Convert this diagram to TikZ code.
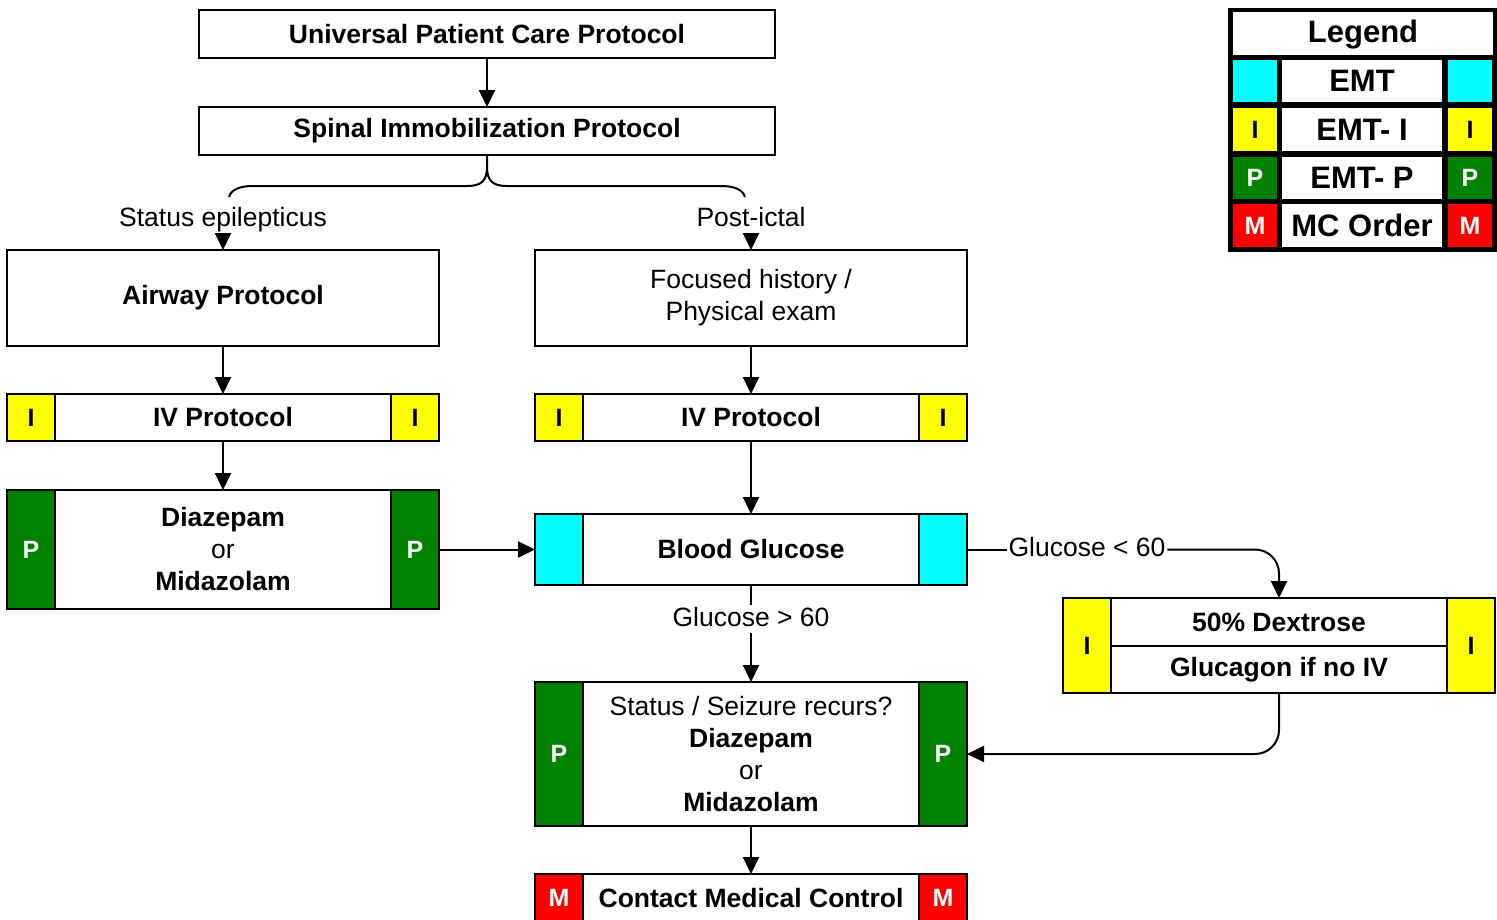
\documentclass[tikz,border=0pt]{standalone}
\usepackage{fontspec}
\setmainfont{Liberation Sans}
\usetikzlibrary{arrows.meta}
\definecolor{tagyellow}{RGB}{255,255,0}
\definecolor{tagcyan}{RGB}{0,255,255}
\definecolor{taggreen}{RGB}{0,128,0}
\definecolor{tagred}{RGB}{255,0,0}
\begin{document}
\begin{tikzpicture}[x=1pt,y=-1pt,
  every node/.style={inner sep=0pt,outer sep=0pt},
  box/.style={draw=black,line width=2pt,fill=white,minimum width=432pt,align=center,font=\fontsize{26.5}{32}\selectfont},
  wbox/.style={box,minimum width=576pt},
  tag/.style={draw=black,line width=2pt,minimum width=48pt,font=\fontsize{25}{28}\selectfont\bfseries},
  tagI/.style={tag,fill=tagyellow,text=black},
  tagE/.style={tag,fill=tagcyan},
  tagP/.style={tag,fill=taggreen,text=white},
  tagM/.style={tag,fill=tagred,text=white},
  lbl/.style={inner sep=2pt,text height=19pt,text depth=5pt,font=\fontsize{26.5}{32}\selectfont},
  line/.style={draw=black,line width=2pt},
  arr/.style={line,-{Triangle[length=17pt,width=16pt]}},
  lcell/.style={fill=white,font=\fontsize{31}{36}\selectfont\bfseries},
  ltag/.style={font=\fontsize{25}{30}\selectfont\bfseries},
]
\useasboundingbox (0,0) rectangle (1497,919);

% main column
\node[wbox,minimum height=48pt] (upc) at (487,34) {\bfseries Universal Patient Care Protocol};
\node[wbox,minimum height=48pt] (sip) at (487,131) {\bfseries Spinal Immobilization Protocol};

\node[lbl] (se) at (223,219) {Status epilepticus};
\node[lbl] (pi) at (751,219) {Post-ictal};
\coordinate (bl) at (229,197);
\coordinate (br) at (745,197);

\node[box,minimum height=96pt] (air) at (223,298) {\bfseries Airway Protocol};
\node[box,minimum height=96pt] (foc) at (751,298) {Focused history /\\Physical exam};

\node[box,minimum height=47pt] (ivl) at (223,417.5) {\bfseries IV Protocol};
\node[tagI,minimum height=47pt,anchor=west] (ivlL) at (ivl.west) {I};
\node[tagI,minimum height=47pt,anchor=east] (ivlR) at (ivl.east) {I};

\node[box,minimum height=47pt] (ivr) at (751,417.5) {\bfseries IV Protocol};
\node[tagI,minimum height=47pt,anchor=west] (ivrL) at (ivr.west) {I};
\node[tagI,minimum height=47pt,anchor=east] (ivrR) at (ivr.east) {I};

\node[box,minimum height=119pt] (dia) at (223,549.5) {\bfseries Diazepam\\or\\\bfseries Midazolam};
\node[tagP,minimum height=119pt,anchor=west] (diaL) at (dia.west) {P};
\node[tagP,minimum height=119pt,anchor=east] (diaR) at (dia.east) {P};

\node[box,minimum height=71pt] (bg) at (751,549.5) {\bfseries Blood Glucose};
\node[tagE,minimum height=71pt,anchor=west] (bgL) at (bg.west) {};
\node[tagE,minimum height=71pt,anchor=east] (bgR) at (bg.east) {};

\node[lbl] (gt) at (751,619) {Glucose > 60};
\node[lbl] (lt) at (1087,549.5) {Glucose < 60};

\node[box,minimum height=144pt] (st) at (751,754) {Status / Seizure recurs?\\\bfseries Diazepam\\or\\\bfseries Midazolam};
\node[tagP,minimum height=144pt,anchor=west] (stL) at (st.west) {P};
\node[tagP,minimum height=144pt,anchor=east] (stR) at (st.east) {P};

\node[box,minimum height=48pt] (cmc) at (751,898) {\bfseries Contact Medical Control};
\node[tagM,minimum height=48pt,anchor=west] (cmcL) at (cmc.west) {M};
\node[tagM,minimum height=48pt,anchor=east] (cmcR) at (cmc.east) {M};

\node[box,minimum height=95pt] (dex) at (1279,645.5) {};
\node[tagI,minimum height=95pt,anchor=west] (dexL) at (dex.west) {I};
\node[tagI,minimum height=95pt,anchor=east] (dexR) at (dex.east) {I};
\coordinate (dexm1) at (1111,646);
\coordinate (dexm2) at (1447,646);
\draw[line] (dexm1) -- (dexm2);
\node[font=\fontsize{26.5}{32}\selectfont\bfseries] (dex1) at (1279,622) {50\% Dextrose};
\node[font=\fontsize{26.5}{32}\selectfont\bfseries] (dex2) at (1279,670) {Glucagon if no IV};

% connectors
\draw[arr] (upc) -- (sip);
\draw[line] (sip.south) -- ++(0,12) .. controls +(0,14) and +(14,0) .. (467,186) -- (253,186) .. controls (239,186) and (231,190) .. (bl);
\draw[line] (sip.south) ++(0,12) .. controls +(0,14) and +(-14,0) .. (507,186) -- (721,186) .. controls (735,186) and (743,190) .. (br);
\draw[arr] (se) -- (air);
\draw[arr] (pi) -- (foc);
\draw[arr] (air) -- (ivl);
\draw[arr] (ivl) -- (dia);
\draw[arr] (foc) -- (ivr);
\draw[arr] (ivr) -- (bg);
\draw[arr] (diaR.east) -- (bg.west);
\draw[line] (bg.south) -- (gt.north);
\draw[arr] (gt.south) -- (st.north);
\draw[arr] (st) -- (cmc);
\draw[line] (bg.east) -- (lt.west);
\draw[arr,rounded corners=24pt] (lt.east) -| (dex.north);
\draw[arr,rounded corners=24pt] (dex.south) |- (st.east);

% legend
\node[fill=black,minimum width=269pt,minimum height=244pt,anchor=north west] (leg) at (1228,8) {};
\node[lcell,minimum width=260pt,minimum height=43pt] (legt) at (1363,33.5) {};
\node[font=\fontsize{31}{36}\selectfont\bfseries] (legtx) at (1363,35) {Legend};
\node[fill=tagcyan,minimum width=44pt,minimum height=42pt] (le1) at (1255,81) {};
\node[lcell,minimum width=160pt,minimum height=42pt] (lm1) at (1362,81) {EMT};
\node[fill=tagcyan,minimum width=44pt,minimum height=42pt] (lr1) at (1470,81) {};
\node[ltag,fill=tagyellow,minimum width=44pt,minimum height=43pt] (le2) at (1255,129.5) {I};
\node[lcell,minimum width=160pt,minimum height=43pt] (lm2) at (1362,129.5) {EMT- I};
\node[ltag,fill=tagyellow,minimum width=44pt,minimum height=43pt] (lr2) at (1470,129.5) {I};
\node[ltag,fill=taggreen,text=white,minimum width=44pt,minimum height=42pt] (le3) at (1255,178) {P};
\node[lcell,minimum width=160pt,minimum height=42pt] (lm3) at (1362,178) {EMT- P};
\node[ltag,fill=taggreen,text=white,minimum width=44pt,minimum height=42pt] (lr3) at (1470,178) {P};
\node[ltag,fill=tagred,text=white,minimum width=44pt,minimum height=43pt] (le4) at (1255,225.5) {M};
\node[lcell,minimum width=160pt,minimum height=43pt] (lm4) at (1362,225.5) {MC Order};
\node[ltag,fill=tagred,text=white,minimum width=44pt,minimum height=43pt] (lr4) at (1470,225.5) {M};
\end{tikzpicture}
\end{document}
